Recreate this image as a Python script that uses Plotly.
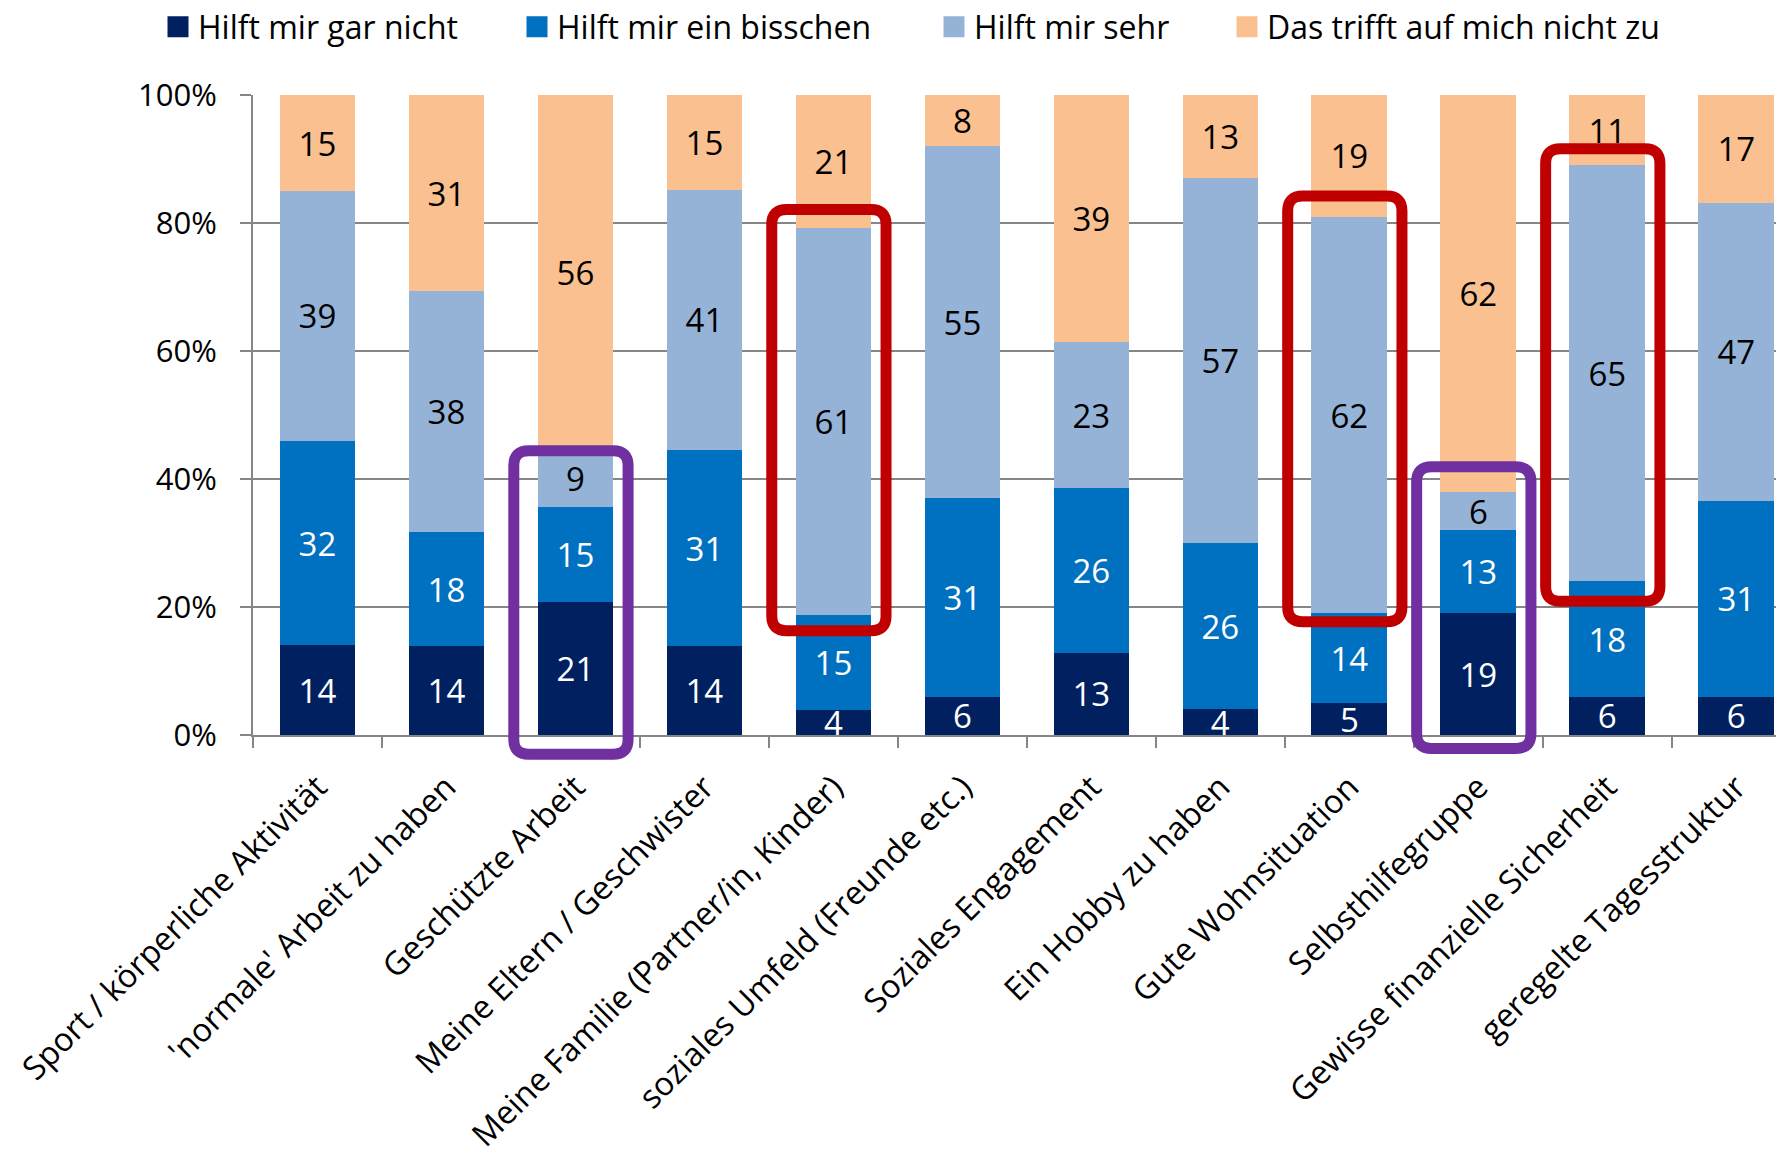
import plotly.graph_objects as go

categories = [
    "Sport / körperliche Aktivität",
    "'normale' Arbeit zu haben",
    "Geschützte Arbeit",
    "Meine Eltern / Geschwister",
    "Meine Familie (Partner/in, Kinder)",
    "soziales Umfeld (Freunde etc.)",
    "Soziales Engagement",
    "Ein Hobby zu haben",
    "Gute Wohnsituation",
    "Selbsthilfegruppe",
    "Gewisse finanzielle Sicherheit",
    "geregelte Tagesstruktur",
]

series_names = [
    "Hilft mir gar nicht",
    "Hilft mir ein bisschen",
    "Hilft mir sehr",
    "Das trifft auf mich nicht zu",
]

gar_nicht = [14, 14, 21, 14, 4, 6, 13, 4, 5, 19, 6, 6]
ein_bisschen = [32, 18, 15, 31, 15, 31, 26, 26, 14, 13, 18, 31]
sehr = [39, 38, 9, 41, 61, 55, 23, 57, 62, 6, 65, 47]
trifft_nicht_zu = [15, 31, 56, 15, 21, 8, 39, 13, 19, 62, 11, 17]

y_ticks = [0, 20, 40, 60, 80, 100]

# highlighted categories: (category index, lower %, upper %, colour)
highlights = [
    (2, -3.0, 44.4, "#7030A0"),
    (4, 16.3, 82.1, "#C00000"),
    (8, 17.7, 84.2, "#C00000"),
    (9, -2.1, 41.9, "#7030A0"),
    (10, 20.9, 91.6, "#C00000"),
]

colors = ["#002060", "#0070C0", "#95B3D7", "#FAC090"]
text_colors = ["white", "white", "black", "black"]
series_values = [gar_nicht, ein_bisschen, sehr, trifft_nicht_zu]
legend_ids = ["legend", "legend2", "legend3", "legend4"]

FONT = "Open Sans, Noto Sans, sans-serif"
GRID = "#868686"

x = list(range(len(categories)))

fig = go.Figure()
for name, vals, col, tcol in zip(series_names, series_values, colors, text_colors):
    fig.add_trace(go.Bar(
        x=x, y=vals, name=name, marker=dict(color=col, line=dict(width=0)),
        text=[str(v) for v in vals], textposition="inside",
        insidetextanchor="middle", textangle=0,
        textfont=dict(family=FONT, size=33, color=tcol),
        showlegend=False, hoverinfo="skip",
    ))

# legend entries (square markers)
for name, col, lid in zip(series_names, colors, legend_ids):
    fig.add_trace(go.Scatter(
        x=[None], y=[None], mode="markers", name=name,
        marker=dict(symbol="square", size=16, color=col,
                    line=dict(color=col, width=5)),
        showlegend=True, legend=lid,
    ))

# rounded highlight boxes
half_w = 0.443
shift = -0.035
rx = 0.116
ry = 0.023
for idx, lo, hi, col in highlights:
    x0 = idx + shift - half_w
    x1 = idx + shift + half_w
    y0 = lo / 100
    y1 = hi / 100
    path = (
        f"M {x0 + rx},{y0} L {x1 - rx},{y0} Q {x1},{y0} {x1},{y0 + ry} "
        f"L {x1},{y1 - ry} Q {x1},{y1} {x1 - rx},{y1} "
        f"L {x0 + rx},{y1} Q {x0},{y1} {x0},{y1 - ry} "
        f"L {x0},{y0 + ry} Q {x0},{y0} {x0 + rx},{y0} Z"
    )
    fig.add_shape(type="path", path=path, xref="x", yref="paper",
                  line=dict(color=col, width=11), fillcolor="rgba(0,0,0,0)",
                  layer="above")

legend_x = [150, 509, 926, 1219]
W, H = 1776, 1145
legend_common = dict(
    orientation="h", xref="container", yref="container",
    yanchor="middle", xanchor="left", y=1 - 19 / H,
    font=dict(family=FONT, size=32, color="black"),
    bgcolor="rgba(0,0,0,0)", borderwidth=0,
)
fig.update_layout(
    legend=dict(x=legend_x[0] / W, **legend_common),
    legend2=dict(x=legend_x[1] / W, **legend_common),
    legend3=dict(x=legend_x[2] / W, **legend_common),
    legend4=dict(x=legend_x[3] / W, **legend_common),
)

fig.update_layout(
    width=W, height=H,
    barmode="stack", barnorm="percent", bargap=0.413,
    plot_bgcolor="white", paper_bgcolor="white",
    margin=dict(l=244.7, r=0, t=87, b=418, pad=0, autoexpand=False),
    uniformtext=dict(minsize=33, mode="show"),
    font=dict(family=FONT, color="black"),
    xaxis=dict(
        range=[-0.5, 11.37], tickmode="array", tickvals=x, ticktext=categories,
        tickangle=-45, ticks="", showgrid=False, zeroline=False,
        showline=True, linecolor=GRID, linewidth=2, automargin=False,
        tickfont=dict(family=FONT, size=32.5, color="black"),
        ticklabelstandoff=18, ticklabeloverflow="allow",
        minor=dict(tickmode="array", tickvals=[i - 0.5 for i in range(13)],
                   ticks="outside", ticklen=11, tickwidth=2, tickcolor=GRID,
                   showgrid=False),
    ),
    yaxis=dict(
        range=[0, 100], tickmode="array", tickvals=y_ticks,
        ticktext=[f"{v}%" for v in y_ticks], automargin=False,
        showgrid=True, gridcolor=GRID, gridwidth=2, zeroline=False,
        showline=True, linecolor=GRID, linewidth=2,
        ticks="outside", ticklen=11, tickwidth=2, tickcolor=GRID,
        tickfont=dict(family=FONT, size=31, color="black"),
        ticklabelstandoff=17,
    ),
)

fig.write_html("out.html")
